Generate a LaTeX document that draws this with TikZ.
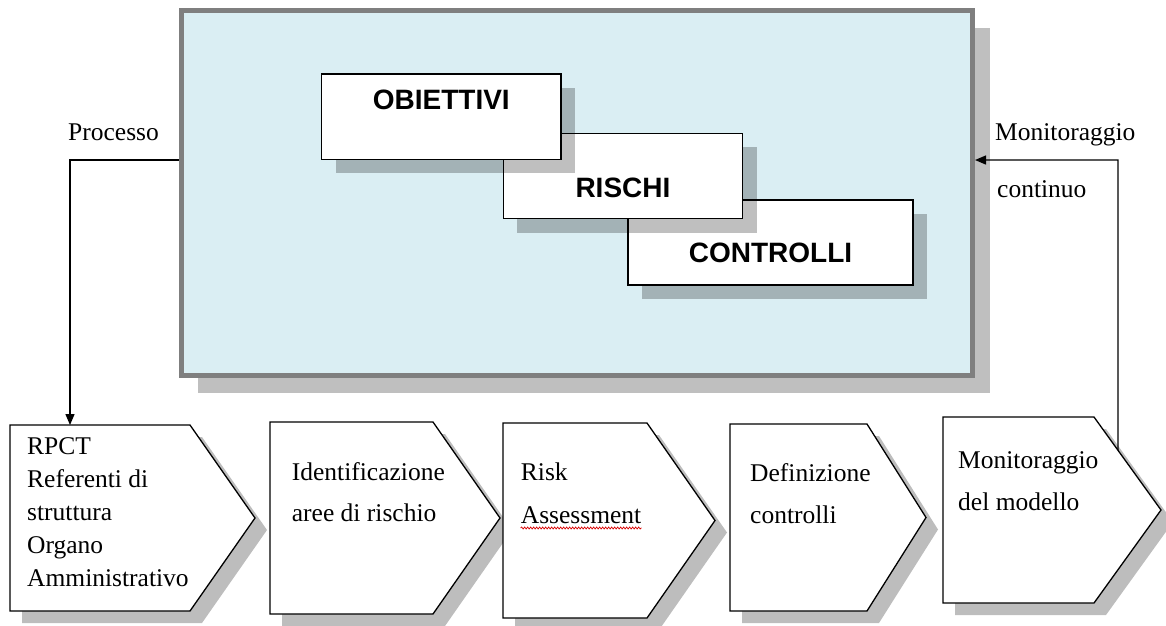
\documentclass[tikz,border=0pt]{standalone}
\usepackage{fontspec}
\setmainfont{Liberation Serif}
\newfontfamily\boxfont{Liberation Sans}
\usetikzlibrary{arrows.meta,calc,shadows,decorations.pathmorphing}
\definecolor{mainfill}{HTML}{DAEEF3}
\definecolor{mainborder}{HTML}{7F7F7F}
\definecolor{mainshadow}{HTML}{BFBFBF}
\definecolor{pshadowc}{HTML}{BDBDBD}
\begin{document}
\begin{tikzpicture}[x=1pt,y=-1pt,
  mainbox/.style={draw=mainborder, line width=5pt, fill=mainfill, anchor=north west, inner sep=0,
    drop shadow={shadow xshift=17pt, shadow yshift=-17pt, fill=mainshadow, opacity=1}},
  smallbox/.style={draw=black, line width=1.3pt, fill=white, anchor=north west, inner sep=0, outer sep=0,
    drop shadow={shadow xshift=14pt, shadow yshift=-14pt, fill=black, opacity=0.25}},
  blbl/.style={font=\boxfont\bfseries\fontsize{28}{32}\selectfont, inner sep=0},
  lbl/.style={font=\fontsize{25.5}{30}\selectfont, inner sep=0, anchor=base west},
  pbody/.style={draw=none, inner sep=0, outer sep=0, anchor=north west},
  pentaline/.style={draw=black, fill=white, line width=1.3pt, line join=miter},
  pshadow/.style={fill=pshadowc},
  conn/.style={draw=black, line width=1.3pt, -{Triangle[length=11pt,width=9pt]}},
  spell/.style={draw=red!85!black, line width=0.7pt, decorate, decoration={snake, amplitude=1pt, segment length=3pt}}
]
\useasboundingbox (0,0) rectangle (1166,625);

% main box
\node[mainbox, minimum width=791.5pt, minimum height=365pt] (main) at (178.5,8) {};

% inner boxes
\node[smallbox, minimum width=285pt, minimum height=85pt] (co) at (628,200) {};
\node[smallbox, minimum width=239.3pt, minimum height=85.4pt] (ri) at (503.3,133.3) {};
\node[smallbox, minimum width=239.4pt, minimum height=85.3pt] (ob) at (321.6,74) {};
\node[blbl] (obt) at ($(ob.north)+(0,26)$) {OBIETTIVI};
\node[blbl] (rit) at ($(ri.north)+(0,54.5)$) {RISCHI};
\node[blbl] (cot) at ($(co.north)+(0,53)$) {CONTROLLI};

% pentagons
\foreach \n/\l/\t/\c/\p/\b in {1/10/425/190/255/611, 2/270/422/433/500/614, 3/503/423/647/715/618, 4/730/424/867/926/611, 5/943/417/1094/1161/603} {
  \node[pbody, minimum width=\c pt-\l pt, minimum height=\b pt-\t pt] (p\n) at (\l,\t) {};
  \coordinate (t\n) at ($(p\n.east)+(\p-\c,0)$);
  \fill[pshadow] ([shift={(12,12)}]p\n.north west) -- ([shift={(12,12)}]p\n.north east) -- ([shift={(12,12)}]t\n)
     -- ([shift={(12,12)}]p\n.south east) -- ([shift={(12,12)}]p\n.south west) -- cycle;
  \path[pentaline] (p\n.north west) -- (p\n.north east) -- (t\n) -- (p\n.south east) -- (p\n.south west) -- cycle;
}

% pentagon texts
\node[lbl] (p1a) at (27,454) {RPCT};
\node[lbl] (p1b) at (27,487) {Referenti di};
\node[lbl] (p1c) at (27,520) {struttura};
\node[lbl] (p1d) at (27,553) {Organo};
\node[lbl] (p1e) at (27,586.7) {Amministrativo};
\node[lbl] (p2a) at (291.7,480) {Identificazione};
\node[lbl] (p2b) at (291.7,521.7) {aree di rischio};
\node[lbl] (p3a) at (520.7,480) {Risk};
\node[lbl] (p3b) at (520.7,523) {Assessment};
\node[lbl] (p4a) at (750,481.7) {Definizione};
\node[lbl] (p4b) at (750,523) {controlli};
\node[lbl] (p5a) at (958,468) {Monitoraggio};
\node[lbl] (p5b) at (958,510) {del modello};
\draw[spell] ($(p3b.base west)+(0,5)$) -- ($(p3b.base east)+(0,5)$);

% side labels
\node[lbl] (proc) at (68,140) {Processo};
\node[lbl] (mon) at (995,140) {Monitoraggio};
\node[lbl] (cont) at (997,197) {continuo};

% connectors
\coordinate (jl) at (70,160);
\coordinate (jr) at (1118,160);
\coordinate (m5) at ($(p5.north east)!0.358!(t5)$);
\draw[conn] (main.west |- jl) -- (jl) -- (jl |- p1.north);
\draw[conn] (m5) -- (jr) -- (main.east |- jr);
\end{tikzpicture}
\end{document}
